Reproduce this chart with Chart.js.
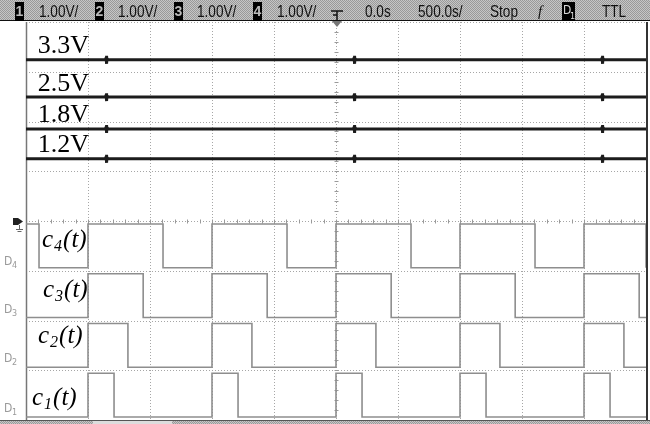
<!DOCTYPE html>
<html><head><meta charset="utf-8">
<script src="https://cdn.jsdelivr.net/npm/chart.js@4.4.1/dist/chart.umd.min.js"></script>
<style>html,body{margin:0;padding:0;background:#fff;}#wrap{width:650px;height:424px;position:relative;}</style>
</head><body><div id="wrap"><canvas id="c"></canvas></div>
<script>
// ---- axes: time in microseconds (500 us/div, 10 div), vertical in divisions (8 div)
const timeTicks = [-2500,-2000,-1500,-1000,-500,0,500,1000,1500,2000,2500];
const divTicks = [0,1,2,3,4,5,6,7,8];

// ---- analog channels (trace position in divisions)
const analogLabels = ['3.3V','2.5V','1.8V','1.2V'];
const analogLevels = [7.24, 6.49, 5.85, 5.25];
const glitchTimes = [-1850, 150, 2150];
const glitchDt = [-10, -4, -2, 0, 2, 4, 10];
const glitchOffset = [0, 0.04, -0.08, 0.08, -0.06, 0.03, 0];

// ---- digital channels
const digitalNames = ['c','c','c','c'];
const digitalSubs = ['4','3','2','1'];
const digitalBase = [3, 2, 1, 0];
const digitalRises = [-3000, -2000, -1000, 0, 1000, 2000];
const digitalHigh = [605, 445, 322, 210];
const lowLevel = 0.06, highLevel = 0.94;

// ---- header texts
const headerTexts = ['1.00V/','1.00V/','1.00V/','1.00V/','0.0s','500.0s/','Stop','TTL'];

function analogData(level){
  const pts = [{x:-2500,y:level}];
  glitchTimes.forEach(g=>{ glitchDt.forEach((d,i)=>pts.push({x:g+d,y:level+glitchOffset[i]})); });
  pts.push({x:2500,y:level});
  return pts;
}
function digitalData(k){
  const base = digitalBase[k], w = digitalHigh[k];
  const pts = [];
  const init = (-2500 - (-3000)) < w ? highLevel : lowLevel;
  pts.push({x:-2500, y:base+init});
  digitalRises.forEach(r=>{
    if (r > -2500) pts.push({x:r, y:base+highLevel});
    if (r + w > -2500) pts.push({x:r+w, y:base+lowLevel});
  });
  pts.push({x:2500, y:pts[pts.length-1].y});
  return pts.sort((a,b)=>a.x-b.x);
}

const datasets = [];
analogLevels.forEach((lv,i)=>datasets.push({label:analogLabels[i], data:analogData(lv), borderColor:'#1c1c1c', borderWidth:3, borderJoinStyle:'bevel', pointRadius:0, tension:0}));
digitalBase.forEach((b,k)=>datasets.push({label:'c'+digitalSubs[k]+'(t)', data:digitalData(k), borderColor:'#8e8e8e', borderWidth:1.6, pointRadius:0, stepped:true}));

function makePattern(ctx){
  const p = document.createElement('canvas'); p.width=2; p.height=2;
  const c = p.getContext('2d');
  c.fillStyle='#c6c6c6'; c.fillRect(0,0,2,2);
  c.fillStyle='#999'; c.fillRect(0,0,1,1); c.fillRect(1,1,1,1);
  return ctx.createPattern(p,'repeat');
}

const scopePlugin = {
  id:'scope',
  beforeDatasetsDraw(chart){
    const {ctx, chartArea:a, scales:{x,y}} = chart;
    ctx.save();
    ctx.strokeStyle='#a6a6a6'; ctx.lineWidth=1; ctx.setLineDash([1,2]);
    timeTicks.forEach(t=>{ const px=Math.round(x.getPixelForValue(t))+0.5; ctx.beginPath(); ctx.moveTo(px,a.top); ctx.lineTo(px,a.bottom); ctx.stroke(); });
    divTicks.forEach(v=>{ const py=Math.round(y.getPixelForValue(v))+0.5; ctx.beginPath(); ctx.moveTo(a.left,py); ctx.lineTo(a.right,py); ctx.stroke(); });
    ctx.setLineDash([]);
    const cx = Math.round(x.getPixelForValue(0))+0.5, cy = Math.round(y.getPixelForValue(4))+0.5;
    ctx.strokeStyle='#9a9a9a';
    for (let t=-2500;t<=2500;t+=100){ const px=Math.round(x.getPixelForValue(t))+0.5; ctx.beginPath(); ctx.moveTo(px,cy-2); ctx.lineTo(px,cy+2); ctx.stroke(); }
    for (let v=0; v<=8.001; v+=0.2){ const py=Math.round(y.getPixelForValue(v))+0.5; ctx.beginPath(); ctx.moveTo(cx-2,py); ctx.lineTo(cx+2,py); ctx.stroke(); }
    // borders
    ctx.strokeStyle='#777'; ctx.lineWidth=1.5;
    ctx.beginPath(); ctx.moveTo(a.left+0.5,a.top); ctx.lineTo(a.left+0.5,a.bottom); ctx.stroke();
    ctx.strokeStyle='#333'; ctx.lineWidth=2;
    ctx.beginPath(); ctx.moveTo(a.right+1,a.top); ctx.lineTo(a.right+1,a.bottom); ctx.stroke();
    ctx.restore();
  },
  afterDraw(chart){
    const {ctx, chartArea:a, scales:{x,y}} = chart;
    ctx.save();
    // analog labels
    ctx.fillStyle='#000'; ctx.textAlign='right'; ctx.textBaseline='alphabetic';
    ctx.font='26px "Liberation Serif", "Times New Roman", serif';
    const aBase=[53,91,122,152];
    analogLabels.forEach((t,i)=>ctx.fillText(t, 89, aBase[i]));
    // digital labels
    ctx.textAlign='left';
    const dX=[42,43,38,32], dBase=[247,297,343,405];
    digitalNames.forEach((n,i)=>{
      let xx=dX[i];
      ctx.font='italic 25px "Liberation Serif", serif';
      ctx.fillText(n, xx, dBase[i]); xx+=ctx.measureText(n).width+1;
      ctx.font='italic 16px "Liberation Serif", serif';
      ctx.fillText(digitalSubs[i], xx, dBase[i]+4); xx+=ctx.measureText(digitalSubs[i]).width+1;
      ctx.font='italic 25px "Liberation Serif", serif';
      ctx.fillText('(t)', xx, dBase[i]);
    });
    // D labels on left
    ctx.fillStyle='#9a9a9a';
    const Dy=[265,313,362,412];
    digitalSubs.forEach((s,i)=>{
      ctx.font='12px "DejaVu Sans Condensed", "DejaVu Sans", sans-serif';
      ctx.fillText('D', 4, Dy[i]);
      ctx.font='8px "DejaVu Sans", sans-serif';
      ctx.fillText(s, 12, Dy[i]+3);
    });
    // ground marker
    ctx.fillStyle='#222'; ctx.fillRect(13,218,5,7);
    ctx.beginPath(); ctx.moveTo(18,218); ctx.lineTo(23,221.5); ctx.lineTo(18,225); ctx.closePath(); ctx.fill();
    ctx.strokeStyle='#666'; ctx.lineWidth=1;
    ctx.beginPath(); ctx.moveTo(19.5,225); ctx.lineTo(19.5,229); ctx.moveTo(16,229.5); ctx.lineTo(23,229.5); ctx.moveTo(17.5,231.5); ctx.lineTo(21.5,231.5); ctx.stroke();
    // top bar
    const pat = makePattern(ctx);
    ctx.fillStyle=pat; ctx.fillRect(0,0,650,21);
    ctx.fillStyle='#111'; ctx.fillRect(0,20,650,1);
    const boxes=[[15,'1'],[95,'2'],[174,'3'],[253,'4']];
    boxes.forEach(b=>{
      ctx.fillStyle='#000'; ctx.fillRect(b[0],2,9,19);
      ctx.fillStyle='#bbb'; ctx.font='bold 14px "Liberation Sans", sans-serif'; ctx.textAlign='center';
      ctx.fillText(b[1], b[0]+4.5, 16);
    });
    ctx.textAlign='left'; ctx.fillStyle='#111';
    const hx=[39,118,197,277,365,418,490,602];
    headerTexts.forEach((t,i)=>{
      ctx.save(); ctx.translate(hx[i],16.5); ctx.scale(0.8,1);
      ctx.font='17px "Liberation Sans", Arial, sans-serif';
      ctx.fillText(t,0,0); ctx.restore();
    });
    // trigger position marker
    ctx.strokeStyle='#111'; ctx.lineWidth=1.5;
    ctx.beginPath(); ctx.moveTo(331,11); ctx.lineTo(343,11); ctx.moveTo(337,11); ctx.lineTo(337,20); ctx.moveTo(333,15); ctx.lineTo(337,15); ctx.stroke();
    ctx.fillStyle='#777';
    ctx.beginPath(); ctx.moveTo(332,21); ctx.lineTo(342,21); ctx.lineTo(337,27); ctx.closePath(); ctx.fill();
    // edge symbol
    ctx.fillStyle='#111'; ctx.font='italic 15px "Liberation Serif", serif'; ctx.fillText('f',538,16);
    // D1 box
    ctx.fillStyle='#000'; ctx.fillRect(562,2,13,19);
    ctx.fillStyle='#ddd'; ctx.font='12px "DejaVu Sans Condensed", sans-serif'; ctx.fillText('D',563,14);
    ctx.font='8px "DejaVu Sans", sans-serif'; ctx.fillText('1',570,19);
    // bottom bar
    ctx.fillStyle=pat; ctx.fillRect(0,420,650,4);
    ctx.fillStyle='#555'; ctx.fillRect(0,420,650,1);
    ctx.fillStyle='#ddd'; ctx.fillRect(93,421,79,3);
    ctx.restore();
  }
};

new Chart(document.getElementById('c'), {
  type:'line',
  data:{datasets},
  options:{
    responsive:true, maintainAspectRatio:false, animation:false,
    layout:{padding:{left:26,right:4,top:22,bottom:4}},
    plugins:{legend:{display:false}, tooltip:{enabled:false}},
    scales:{
      x:{type:'linear', display:false, min:timeTicks[0], max:timeTicks[timeTicks.length-1]},
      y:{type:'linear', display:false, min:divTicks[0], max:divTicks[divTicks.length-1]}
    }
  },
  plugins:[scopePlugin]
});
</script></body></html>
